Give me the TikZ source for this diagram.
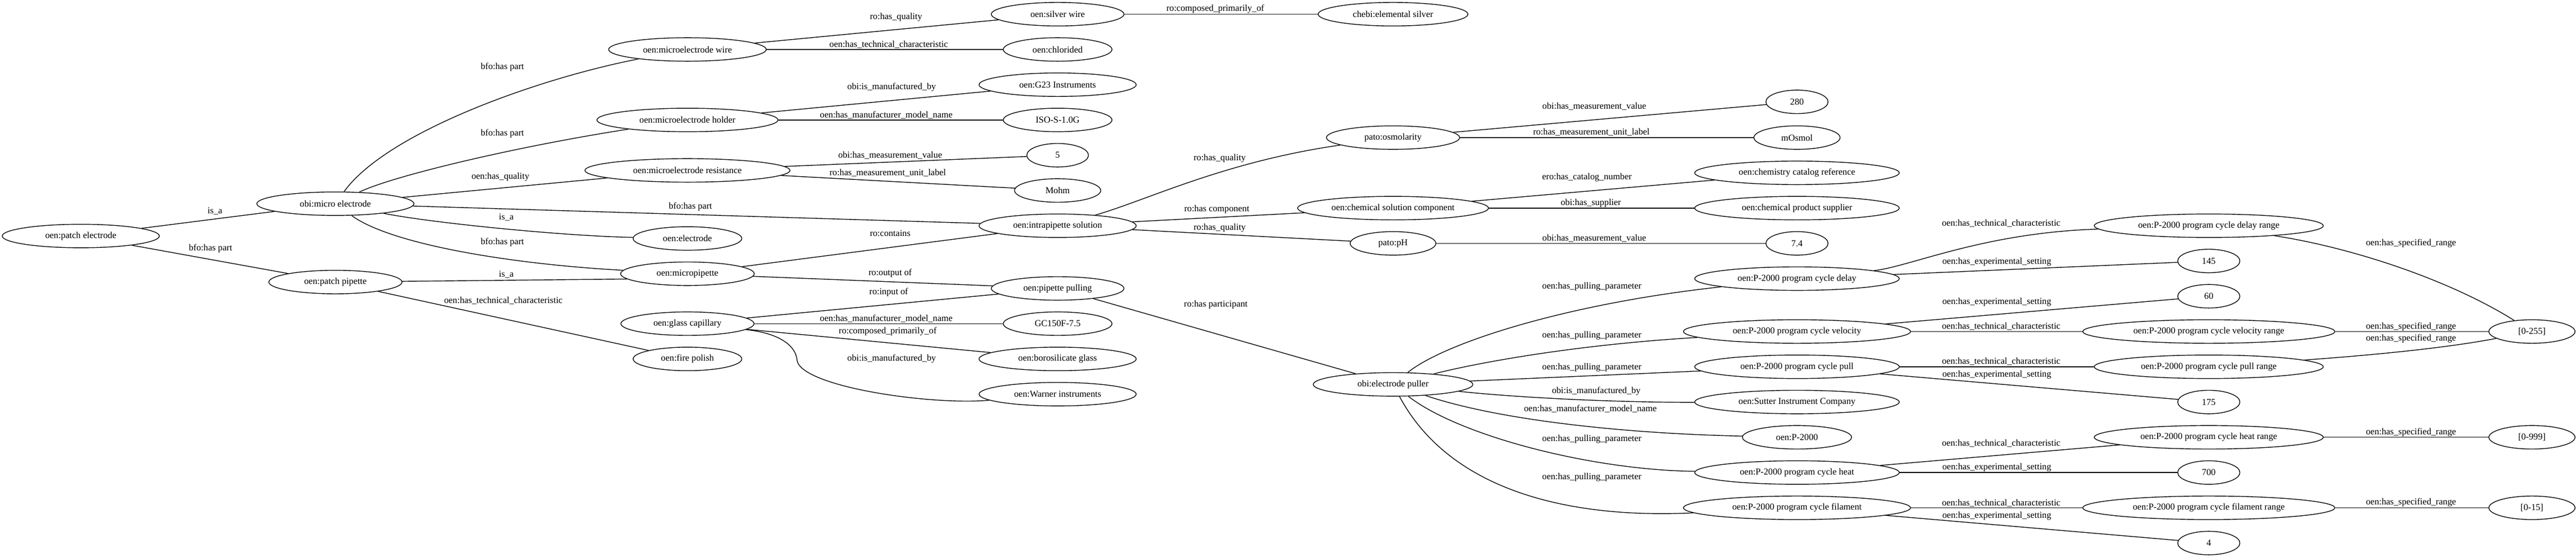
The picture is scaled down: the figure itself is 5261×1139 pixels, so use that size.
\documentclass[tikz,border=0pt]{standalone}
\usepackage{fontspec}
\setmainfont{Liberation Serif}
\usetikzlibrary{shapes.geometric}

\begin{document}
\begin{tikzpicture}[x=0.02cm, y=-0.02cm]
  \tikzstyle{entity} = [ellipse, draw, line width = 0.03cm, minimum height = 0.96cm, inner sep = 0pt, font = \fontsize{10.6}{12}\selectfont]
  \tikzstyle{rel} = [inner sep = 0pt, font = \fontsize{10.6}{12}\selectfont]
  \tikzstyle{link} = [-, line width = 0.03cm]

  \useasboundingbox (0,0) rectangle (5261,1139);

  \node [entity, minimum width = 6.42cm] at (165,482) (patch_electrode) {oen:patch electrode};
  \node [entity, minimum width = 6.42cm] at (685,416) (micro_electrode) {obi:micro electrode};
  \node [entity, minimum width = 5.44cm] at (685,576) (patch_pipette) {oen:patch pipette};

  \node [entity, minimum width = 6.44cm] at (1404,101) (wire) {oen:microelectrode wire};
  \node [entity, minimum width = 7.4cm] at (1404,245) (holder) {oen:microelectrode holder};
  \node [entity, minimum width = 8.38cm] at (1404,348) (resistance) {oen:microelectrode resistance};
  \node [entity, minimum width = 4.44cm] at (1404,487) (electrode) {oen:electrode};
  \node [entity, minimum width = 5.46cm] at (1404,559) (micropipette) {oen:micropipette};
  \node [entity, minimum width = 5.44cm] at (1404,661) (capillary) {oen:glass capillary};
  \node [entity, minimum width = 4.44cm] at (1404,733) (fire_polish) {oen:fire polish};

  \node [entity, minimum width = 5.42cm] at (2160,29) (silver_wire) {oen:silver wire};
  \node [entity, minimum width = 4.44cm] at (2160,101) (chlorided) {oen:chlorided};
  \node [entity, minimum width = 6.42cm] at (2160,173) (g23) {oen:G23 Instruments};
  \node [entity, minimum width = 4.44cm] at (2160,245) (iso_model) {ISO-S-1.0G};
  \node [entity, minimum width = 2.52cm] at (2160,317) (res_value) {5};
  \node [entity, minimum width = 3.52cm] at (2160,389) (res_unit) {Mohm};
  \node [entity, minimum width = 6.42cm] at (2160,461) (solution) {oen:intrapipette solution};
  \node [entity, minimum width = 5.42cm] at (2160,589) (pulling) {oen:pipette pulling};
  \node [entity, minimum width = 4.44cm] at (2160,661) (gc_model) {GC150F-7.5};
  \node [entity, minimum width = 6.42cm] at (2160,733) (borosilicate) {oen:borosilicate glass};
  \node [entity, minimum width = 6.42cm] at (2160,805) (warner) {oen:Warner instruments};

  \node [entity, minimum width = 6.12cm] at (2845,29) (silver) {chebi:elemental silver};
  \node [entity, minimum width = 5.44cm] at (2845,281) (osmolarity) {pato:osmolarity};
  \node [entity, minimum width = 7.8cm] at (2845,425) (component) {oen:chemical solution component};
  \node [entity, minimum width = 3.5cm] at (2845,497) (ph) {pato:pH};
  \node [entity, minimum width = 6.52cm] at (2845,785) (puller) {obi:electrode puller};

  \node [entity, minimum width = 2.54cm] at (3670,208) (osm_value) {280};
  \node [entity, minimum width = 3.52cm] at (3670,281) (osm_unit) {mOsmol};
  \node [entity, minimum width = 8.36cm] at (3670,353) (catalog) {oen:chemistry catalog reference};
  \node [entity, minimum width = 8.36cm] at (3670,425) (supplier) {oen:chemical product supplier};
  \node [entity, minimum width = 2.54cm] at (3670,497) (ph_value) {7.4};
  \node [entity, minimum width = 8.36cm] at (3670,569) (delay) {oen:P-2000 program cycle delay};
  \node [entity, minimum width = 9.28cm] at (3670,677) (velocity) {oen:P-2000 program cycle velocity};
  \node [entity, minimum width = 8.36cm] at (3670,749) (pull) {oen:P-2000 program cycle pull};
  \node [entity, minimum width = 8.36cm] at (3670,821) (sutter) {oen:Sutter Instrument Company};
  \node [entity, minimum width = 4.46cm] at (3670,893) (p2000) {oen:P-2000};
  \node [entity, minimum width = 8.36cm] at (3670,965) (heat) {oen:P-2000 program cycle heat};
  \node [entity, minimum width = 9.28cm] at (3670,1037) (filament) {oen:P-2000 program cycle filament};

  \node [entity, minimum width = 9.36cm] at (4511,461) (delay_range) {oen:P-2000 program cycle delay range};
  \node [entity, minimum width = 2.54cm] at (4511,533) (delay_value) {145};
  \node [entity, minimum width = 2.54cm] at (4511,605) (velocity_value) {60};
  \node [entity, minimum width = 10.3cm] at (4511,677) (velocity_range) {oen:P-2000 program cycle velocity range};
  \node [entity, minimum width = 9.36cm] at (4511,749) (pull_range) {oen:P-2000 program cycle pull range};
  \node [entity, minimum width = 2.54cm] at (4511,821) (pull_value) {175};
  \node [entity, minimum width = 9.36cm] at (4511,893) (heat_range) {oen:P-2000 program cycle heat range};
  \node [entity, minimum width = 2.54cm] at (4511,965) (heat_value) {700};
  \node [entity, minimum width = 10.3cm] at (4511,1037) (filament_range) {oen:P-2000 program cycle filament range};
  \node [entity, minimum width = 2.54cm] at (4511,1109) (filament_value) {4};

  \node [entity, minimum width = 3.52cm] at (5171,677) (range_255) {[0-255]};
  \node [entity, minimum width = 3.52cm] at (5171,893) (range_999) {[0-999]};
  \node [entity, minimum width = 3.52cm] at (5171,1037) (range_15) {[0-15]};

  \node [rel] at (439,431) (l_pe_me) {is\_a};
  \node [rel] at (430,507) (l_pe_pp) {bfo:has part};
  \node [rel] at (1026,137) (l_me_wire) {bfo:has part};
  \node [rel] at (1026,273) (l_me_holder) {bfo:has part};
  \node [rel] at (1022,361) (l_me_res) {oen:has\_quality};
  \node [rel] at (1410,422) (l_me_sol) {bfo:has part};
  \node [rel] at (1034,444) (l_me_el) {is\_a};
  \node [rel] at (1026,495) (l_me_mp) {bfo:has part};
  \node [rel] at (1034,561) (l_pp_mp) {is\_a};
  \node [rel] at (1028,614) (l_pp_fp) {oen:has\_technical\_characteristic};
  \node [rel] at (1830,35) (l_wire_sw) {ro:has\_quality};
  \node [rel] at (1815,91) (l_wire_chl) {oen:has\_technical\_characteristic};
  \node [rel] at (1821,178) (l_holder_g23) {obi:is\_manufactured\_by};
  \node [rel] at (1810,235) (l_holder_iso) {oen:has\_manufacturer\_model\_name};
  \node [rel] at (1818,317) (l_res_value) {obi:has\_measurement\_value};
  \node [rel] at (1813,353) (l_res_unit) {ro:has\_measurement\_unit\_label};
  \node [rel] at (1818,476) (l_mp_sol) {ro:contains};
  \node [rel] at (1818,558) (l_mp_pulling) {ro:output of};
  \node [rel] at (1815,597) (l_gc_pulling) {ro:input of};
  \node [rel] at (1810,651) (l_gc_model) {oen:has\_manufacturer\_model\_name};
  \node [rel] at (1813,677) (l_gc_boro) {ro:composed\_primarily\_of};
  \node [rel] at (1821,733) (l_gc_warner) {obi:is\_manufactured\_by};
  \node [rel] at (2482,18) (l_sw_silver) {ro:composed\_primarily\_of};
  \node [rel] at (2491,323) (l_sol_osm) {ro:has\_quality};
  \node [rel] at (2485,427) (l_sol_comp) {ro:has component};
  \node [rel] at (2491,465) (l_sol_ph) {ro:has\_quality};
  \node [rel] at (2483,622) (l_pulling_puller) {ro:has participant};
  \node [rel] at (3256,217) (l_osm_value) {obi:has\_measurement\_value};
  \node [rel] at (3250,270) (l_osm_unit) {ro:has\_measurement\_unit\_label};
  \node [rel] at (3241,362) (l_comp_cat) {ero:has\_catalog\_number};
  \node [rel] at (3249,415) (l_comp_sup) {obi:has\_supplier};
  \node [rel] at (3256,487) (l_ph_value) {obi:has\_measurement\_value};
  \node [rel] at (3251,585) (l_puller_delay) {oen:has\_pulling\_parameter};
  \node [rel] at (3251,685) (l_puller_vel) {oen:has\_pulling\_parameter};
  \node [rel] at (3251,750) (l_puller_pull) {oen:has\_pulling\_parameter};
  \node [rel] at (3260,799) (l_puller_sutter) {obi:is\_manufactured\_by};
  \node [rel] at (3248,835) (l_puller_p2000) {oen:has\_manufacturer\_model\_name};
  \node [rel] at (3251,897) (l_puller_heat) {oen:has\_pulling\_parameter};
  \node [rel] at (3251,975) (l_puller_fil) {oen:has\_pulling\_parameter};
  \node [rel] at (4087,456) (l_delay_range) {oen:has\_technical\_characteristic};
  \node [rel] at (4078,535) (l_delay_value) {oen:has\_experimental\_setting};
  \node [rel] at (4078,617) (l_vel_value) {oen:has\_experimental\_setting};
  \node [rel] at (4087,667) (l_vel_range) {oen:has\_technical\_characteristic};
  \node [rel] at (4087,738) (l_pull_range) {oen:has\_technical\_characteristic};
  \node [rel] at (4078,765) (l_pull_value) {oen:has\_experimental\_setting};
  \node [rel] at (4087,905) (l_heat_range) {oen:has\_technical\_characteristic};
  \node [rel] at (4078,955) (l_heat_value) {oen:has\_experimental\_setting};
  \node [rel] at (4087,1027) (l_fil_range) {oen:has\_technical\_characteristic};
  \node [rel] at (4078,1054) (l_fil_value) {oen:has\_experimental\_setting};
  \node [rel] at (4924,497) (l_delay_255) {oen:has\_specified\_range};
  \node [rel] at (4924,667) (l_vel_255) {oen:has\_specified\_range};
  \node [rel] at (4924,692) (l_pull_255) {oen:has\_specified\_range};
  \node [rel] at (4924,883) (l_heat_999) {oen:has\_specified\_range};
  \node [rel] at (4924,1026) (l_fil_15) {oen:has\_specified\_range};

  \draw[link] (patch_electrode) -- (micro_electrode);
  \draw[link] (patch_electrode) -- (patch_pipette);
  \draw[link] (micro_electrode) .. controls (790,270) and (1100,160) .. (wire);
  \draw[link] (micro_electrode) .. controls (800,360) and (1050,300) .. (holder);
  \draw[link] (micro_electrode) -- (resistance);
  \draw[link] (micro_electrode) -- (solution);
  \draw[link] (micro_electrode) .. controls (880,455) and (1150,482) .. (electrode);
  \draw[link] (micro_electrode) .. controls (800,500) and (1050,540) .. (micropipette);
  \draw[link] (patch_pipette) -- (micropipette.185);
  \draw[link] (patch_pipette) -- (fire_polish);

  \draw[link] (wire) -- (silver_wire);
  \draw[link] (wire) -- (chlorided);
  \draw[link] (holder) -- (g23);
  \draw[link] (holder) -- (iso_model);
  \draw[link] (resistance) -- (res_value);
  \draw[link] (resistance) -- (res_unit);
  \draw[link] (micropipette) -- (solution);
  \draw[link] (micropipette) -- (pulling);
  \draw[link] (capillary) -- (pulling);
  \draw[link] (capillary) -- (gc_model);
  \draw[link] (capillary) -- (borosilicate);
  \draw[link] (capillary) .. controls (1590,680) and (1626,705) .. (1628,737) .. controls (1640,790) and (1900,828) .. (warner);

  \draw[link] (silver_wire) -- (silver);
  \draw[link] (solution) .. controls (2340,410) and (2500,330) .. (osmolarity);
  \draw[link] (solution) -- (component);
  \draw[link] (solution) -- (ph);
  \draw[link] (pulling) -- (puller);

  \draw[link] (osmolarity) -- (osm_value);
  \draw[link] (osmolarity) -- (osm_unit);
  \draw[link] (component) -- (catalog);
  \draw[link] (component) -- (supplier);
  \draw[link] (ph) -- (ph_value);
  \draw[link] (puller) .. controls (2950,700) and (3200,620) .. (delay);
  \draw[link] (puller) .. controls (3000,745) and (3200,705) .. (velocity);
  \draw[link] (puller) -- (pull);
  \draw[link] (puller) .. controls (3100,812) and (3300,822) .. (sutter);
  \draw[link] (puller) .. controls (3050,855) and (3300,885) .. (p2000);
  \draw[link] (puller) .. controls (2980,890) and (3250,960) .. (heat);
  \draw[link] (puller) .. controls (2960,1000) and (3200,1060) .. (filament);

  \draw[link] (delay) .. controls (3900,545) and (4050,475) .. (delay_range);
  \draw[link] (delay) -- (delay_value);
  \draw[link] (velocity) -- (velocity_value);
  \draw[link] (velocity) -- (velocity_range);
  \draw[link] (pull) -- (pull_range);
  \draw[link] (pull) -- (pull_value);
  \draw[link] (heat) -- (heat_range);
  \draw[link] (heat) -- (heat_value);
  \draw[link] (filament) -- (filament_range);
  \draw[link] (filament) -- (filament_value);

  \draw[link] (delay_range) .. controls (4800,505) and (5000,570) .. (range_255);
  \draw[link] (velocity_range) -- (range_255);
  \draw[link] (pull_range) .. controls (4850,725) and (5000,710) .. (range_255);
  \draw[link] (heat_range) -- (range_999);
  \draw[link] (filament_range) -- (range_15);
\end{tikzpicture}
\end{document}
